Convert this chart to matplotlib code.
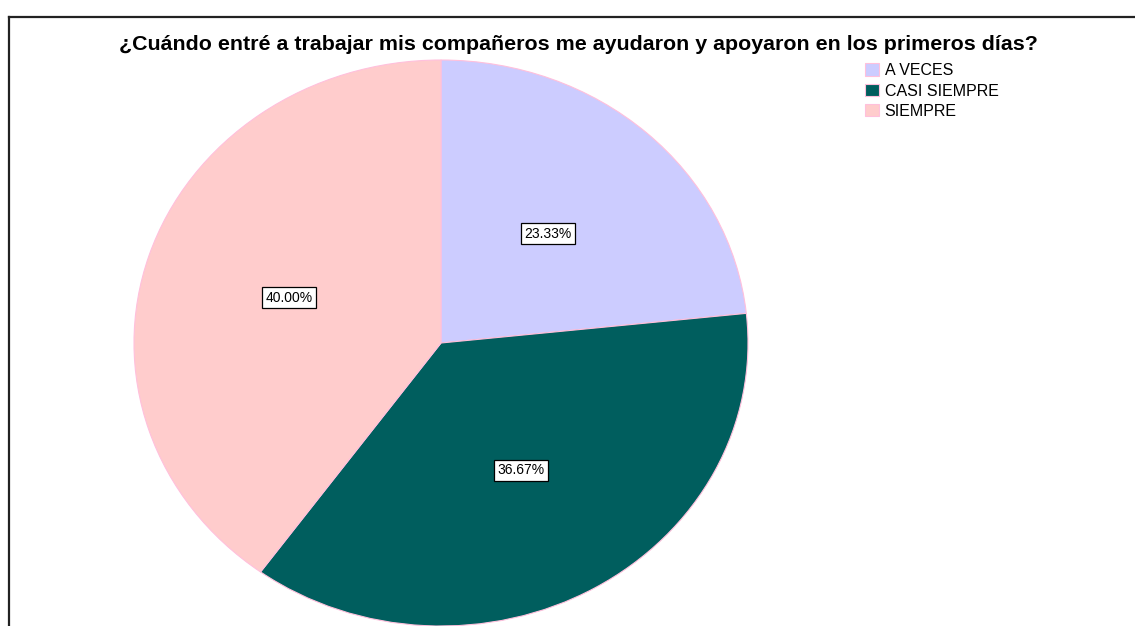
import matplotlib
matplotlib.use("Agg")
import matplotlib.pyplot as plt
from matplotlib.lines import Line2D
from matplotlib.patches import Patch

# data
categories = ["A VECES", "CASI SIEMPRE", "SIEMPRE"]
shares = [23.33, 36.67, 40.00]
colors = ["#ccccff", "#005e5e", "#ffcccc"]
title = "¿Cuándo entré a trabajar mis compañeros me ayudaron y apoyaron en los primeros días?"

plt.rcParams["font.family"] = ["Liberation Sans", "DejaVu Sans"]

W, H = 1135, 626
fig = plt.figure(figsize=(W / 100, H / 100), dpi=100)

# pie is slightly elliptical in the reference: axes stretched to match
cx, cy, rx, ry = 441, 343, 307, 283
ax = fig.add_axes([(cx - rx) / W, (H - cy - ry) / H, 2 * rx / W, 2 * ry / H])
wedges, texts, autotexts = ax.pie(
    shares, colors=colors, startangle=90, counterclock=False,
    autopct="%.2f%%", pctdistance=0.52,
    wedgeprops=dict(edgecolor="#ffc0dc", linewidth=0.8),
    textprops=dict(fontsize=10, color="black"),
)
for t in autotexts:
    t.set_bbox(dict(boxstyle="square,pad=0.25", facecolor="white",
                    edgecolor="black", linewidth=0.9))
ax.set_aspect("auto")
ax.set_xlim(-1, 1)
ax.set_ylim(-1, 1)
ax.axis("off")

fig.text(578 / W, 1 - 45 / H, title, ha="center", va="center",
         fontsize=15.4, fontweight="bold")

handles = [Patch(facecolor=c, edgecolor="#ffc0dc", linewidth=0.8) for c in colors]
fig.legend(handles, categories, loc="upper left",
           bbox_to_anchor=(859 / W, 1 - 57 / H), frameon=False,
           fontsize=11.5, handlelength=0.85, handleheight=0.85,
           handletextpad=0.35, labelspacing=0.32, borderaxespad=0)

# outer frame (only left and top edges visible in the crop)
fig.add_artist(Line2D([8.5 / W, 8.5 / W], [0, 1 - 16.5 / H], color="#222222",
                      linewidth=1.6, transform=fig.transFigure))
fig.add_artist(Line2D([8.5 / W, 1], [1 - 16.5 / H, 1 - 16.5 / H], color="#222222",
                      linewidth=1.6, transform=fig.transFigure))

fig.savefig("out.png", dpi=100)
